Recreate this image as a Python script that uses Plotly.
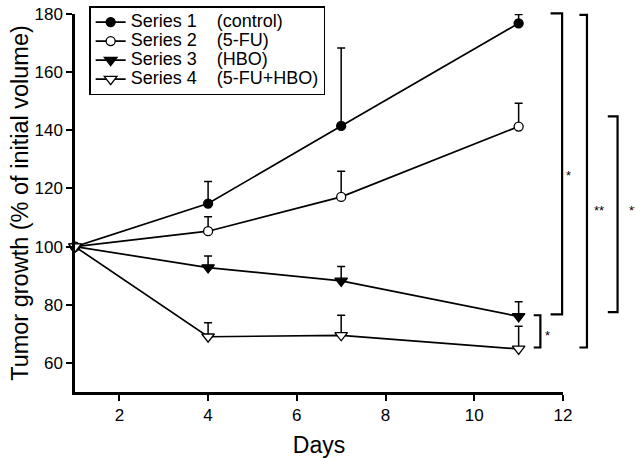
import plotly.graph_objects as go

# ---- data ----
days = [1, 4, 7, 11]
series_names = ["Series 1", "Series 2", "Series 3", "Series 4"]
group_labels = ["(control)", "(5-FU)", "(HBO)", "(5-FU+HBO)"]

s1_control = [100, 114.8, 141.5, 176.8]
s1_err = [0, 7.6, 26.8, 3.0]
s2_5fu = [100, 105.3, 117.1, 141.3]
s2_err = [0, 5.0, 8.8, 8.0]
s3_hbo = [100, 92.8, 88.2, 76.0]
s3_err = [0, 4.0, 5.0, 5.0]
s4_5fu_hbo = [100, 69.0, 69.5, 64.8]
s4_err = [0, 4.8, 6.9, 7.8]

x_ticks = [2, 4, 6, 8, 10, 12]
y_ticks = [60, 80, 100, 120, 140, 160, 180]

# significance brackets: (x of vertical in days, arm length in days, y top, y bottom, label, label x, label y)
brackets = [
    (11.98, 0.26, 180.2, 76.7, "*", 12.13, 124.5),
    (12.54, 0.17, 179.7, 65.3, "**", 12.82, 112.5),
    (13.23, 0.22, 144.8, 77.5, "**", 13.60, 112.5),
    (11.49, 0.15, 76.4, 65.3, "*", 11.66, 69.5),
]

X_RANGE = [1, 12]
Y_RANGE = [50, 180]

FONT = "Liberation Sans, Arial, Helvetica, sans-serif"

values = [s1_control, s2_5fu, s3_hbo, s4_5fu_hbo]
errors = [s1_err, s2_err, s3_err, s4_err]
symbols = ["circle", "circle", "triangle-down", "triangle-down"]
fills = ["black", "white", "black", "white"]
sizes = [9, 9, 11, 11]

fig = go.Figure()
nb = "\u00a0"
for name, grp, v, e, sym, fc, sz in zip(series_names, group_labels, values, errors, symbols, fills, sizes):
    fig.add_trace(go.Scatter(
        x=days, y=v,
        name=f'<span style="font-size:18px">{name}{nb*3} {grp}</span>',
        mode="lines+markers",
        line=dict(color="black", width=1.7),
        marker=dict(symbol=sym, size=sz, color=fc, line=dict(color="black", width=1.3)),
        error_y=dict(type="data", array=e, arrayminus=[0] * len(e), symmetric=False,
                     color="black", thickness=1.5, width=4),
        cliponaxis=False,
    ))

def px_x(d):
    return (d - X_RANGE[0]) / (X_RANGE[1] - X_RANGE[0])

def px_y(v):
    return (v - Y_RANGE[0]) / (Y_RANGE[1] - Y_RANGE[0])

shapes = []
annotations = []
for xv, arm, yt, yb, lab, lx, ly in brackets:
    path = (f"M{px_x(xv - arm)},{px_y(yt)} L{px_x(xv)},{px_y(yt)} "
            f"L{px_x(xv)},{px_y(yb)} L{px_x(xv - arm)},{px_y(yb)}")
    shapes.append(dict(type="path", path=path, xref="paper", yref="paper",
                       line=dict(color="black", width=2.2)))
    annotations.append(dict(text=lab, x=px_x(lx), y=px_y(ly), xref="paper", yref="paper",
                            showarrow=False, font=dict(size=13, color="black", family=FONT),
                            xanchor="center", yanchor="middle"))

fig.update_layout(
    width=635, height=458,
    margin=dict(l=75, r=72, t=14, b=66, autoexpand=False),
    paper_bgcolor="white", plot_bgcolor="white",
    font=dict(family=FONT, color="black", size=17),
    showlegend=True,
    legend=dict(
        x=0.029, y=1.021, xanchor="left", yanchor="top",
        bordercolor="black", borderwidth=1.5, bgcolor="white",
        font=dict(size=12, family=FONT, color="black"),
        tracegroupgap=0, itemsizing="trace",
    ),
    shapes=shapes,
    annotations=annotations,
    xaxis=dict(
        range=X_RANGE, tickvals=x_ticks, showline=True, linecolor="black", linewidth=2.5,
        ticks="outside", ticklen=6, tickwidth=2, tickcolor="black", showgrid=False, zeroline=False,
        tickfont=dict(size=17), automargin=False,
        title=dict(text="Days", font=dict(size=23), standoff=16),
    ),
    yaxis=dict(
        range=Y_RANGE, tickvals=y_ticks, showline=True, linecolor="black", linewidth=2.5,
        ticks="outside", ticklen=6, tickwidth=2, tickcolor="black", showgrid=False, zeroline=False,
        tickfont=dict(size=17), automargin=False,
        title=dict(text="Tumor growth (% of initial volume)", font=dict(size=23.5), standoff=0),
    ),
)

fig.write_html("out.html", config={"displayModeBar": False},
               post_script="document.body.style.margin='0';")
